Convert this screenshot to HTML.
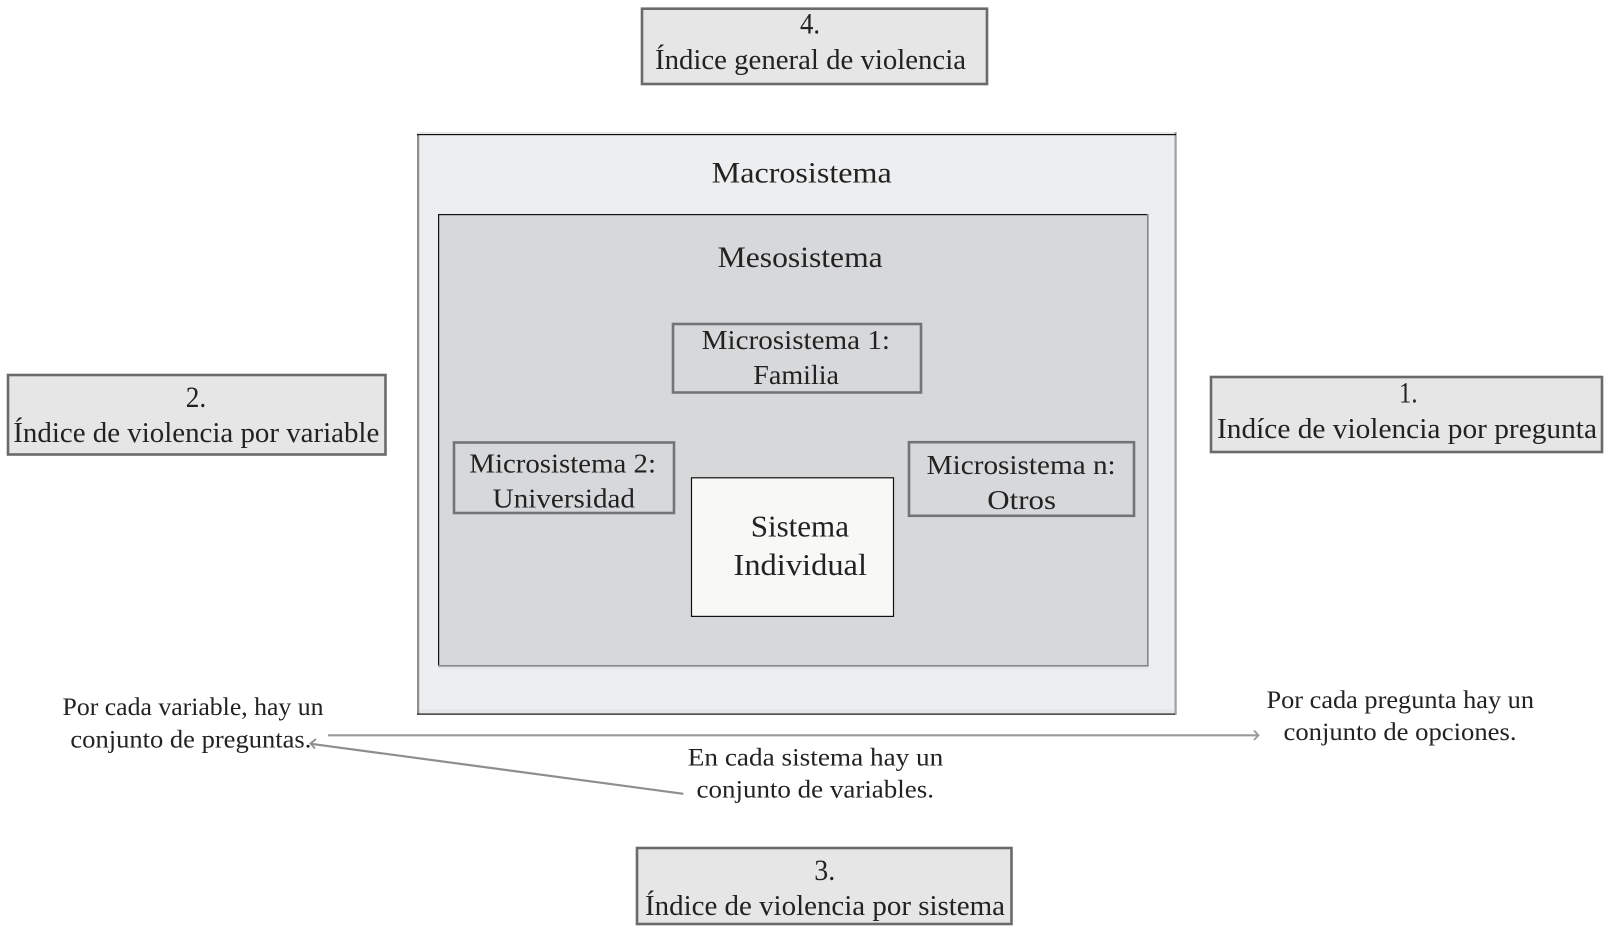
<!DOCTYPE html>
<html lang="es">
<head>
<meta charset="utf-8">
<title>Sistemas e índices de violencia</title>
<style>
html,body{margin:0;padding:0;background:#fff;width:1609px;height:931px;overflow:hidden}
svg{display:block}
text{font-family:"Liberation Serif",serif;fill:#222;text-anchor:start}
.b{font-size:28px}
.l{font-size:25px}
.m{font-size:27px}
</style>
</head>
<body>
<svg width="1609" height="931" viewBox="0 0 1609 931" xmlns="http://www.w3.org/2000/svg">
<rect width="1609" height="931" fill="#fff"/>

<!-- Macrosistema -->
<rect x="417" y="132" width="759" height="583" fill="#edeef0"/>
<rect x="417" y="132" width="759" height="2" fill="#e6e7e8"/>
<rect x="419" y="709" width="755" height="4" fill="#e6e7e8"/>
<rect x="417" y="134" width="2.2" height="580" fill="#8e8e8e"/>
<rect x="1174.5" y="132" width="2.2" height="583" fill="#a0a0a0"/>
<rect x="417" y="134" width="759" height="1.2" fill="#111"/>
<rect x="417" y="713.5" width="758" height="1.2" fill="#111"/>
<text x="711.7" y="182.7" font-size="30" textLength="180" lengthAdjust="spacingAndGlyphs">Macrosistema</text>

<!-- Mesosistema -->
<rect x="438" y="214" width="711" height="455" fill="#e5e6e8"/>
<rect x="438" y="214" width="710" height="451.5" fill="#d7d8da"/>
<rect x="1147" y="214" width="1.6" height="452" fill="#85878a"/>
<rect x="438" y="665" width="710.6" height="1.6" fill="#85878a"/>
<rect x="438" y="214" width="709" height="1.2" fill="#111"/>
<rect x="438" y="214" width="1.2" height="451" fill="#111"/>
<text x="717.7" y="267" font-size="30" textLength="165" lengthAdjust="spacingAndGlyphs">Mesosistema</text>

<!-- Microsistema 1 -->
<rect x="673" y="324" width="248" height="68.5" fill="#d7d8da" stroke="#737476" stroke-width="2.6"/>
<text class="m" x="701.7" y="349" textLength="188.3" lengthAdjust="spacingAndGlyphs">Microsistema 1:</text>
<text class="m" x="753.3" y="384" textLength="85.7" lengthAdjust="spacingAndGlyphs">Familia</text>

<!-- Microsistema 2 -->
<rect x="454" y="442.5" width="220" height="70.5" fill="#d7d8da" stroke="#737476" stroke-width="2.6"/>
<text class="m" x="469.3" y="472.3" textLength="186.7" lengthAdjust="spacingAndGlyphs">Microsistema 2:</text>
<text class="m" x="492.7" y="507.3" textLength="142.3" lengthAdjust="spacingAndGlyphs">Universidad</text>

<!-- Microsistema n -->
<rect x="909" y="442.2" width="225" height="73.6" fill="#d7d8da" stroke="#737476" stroke-width="2.6"/>
<text class="m" x="926.7" y="474" textLength="189" lengthAdjust="spacingAndGlyphs">Microsistema n:</text>
<text class="m" x="987.3" y="508.8" textLength="68.7" lengthAdjust="spacingAndGlyphs">Otros</text>

<!-- Sistema Individual -->
<rect x="691.5" y="477.8" width="202" height="138.6" fill="#f8f8f7" stroke="#111" stroke-width="1.2"/>
<text x="750.7" y="536.3" font-size="31" textLength="98.3" lengthAdjust="spacingAndGlyphs">Sistema</text>
<text x="733.5" y="575" font-size="31" textLength="133.5" lengthAdjust="spacingAndGlyphs">Individual</text>

<!-- Box 4 -->
<rect x="642" y="8.7" width="345" height="75.3" fill="#e6e6e6" stroke="#6a6a6a" stroke-width="2.6"/>
<text x="800" y="33.5" font-size="30" textLength="20" lengthAdjust="spacingAndGlyphs">4.</text>
<text class="b" x="655" y="69" textLength="311" lengthAdjust="spacingAndGlyphs">Índice general de violencia</text>

<!-- Box 2 -->
<rect x="8" y="375" width="377.5" height="79.5" fill="#e6e6e6" stroke="#6a6a6a" stroke-width="2.6"/>
<text x="185.7" y="407" font-size="30" textLength="20.5" lengthAdjust="spacingAndGlyphs">2.</text>
<text class="b" x="13.3" y="442" textLength="366" lengthAdjust="spacingAndGlyphs">Índice de violencia por variable</text>

<!-- Box 1 -->
<rect x="1211" y="377" width="391" height="75" fill="#e6e6e6" stroke="#6a6a6a" stroke-width="2.6"/>
<text x="1399" y="402.5" font-size="30" textLength="18.5" lengthAdjust="spacingAndGlyphs">1.</text>
<text class="b" x="1217" y="438" textLength="380" lengthAdjust="spacingAndGlyphs">Indíce de violencia por pregunta</text>

<!-- Box 3 -->
<rect x="637" y="848" width="374.5" height="76" fill="#e6e6e6" stroke="#6a6a6a" stroke-width="2.6"/>
<text x="814.3" y="880" font-size="30" textLength="21" lengthAdjust="spacingAndGlyphs">3.</text>
<text class="b" x="645" y="914.8" textLength="360" lengthAdjust="spacingAndGlyphs">Índice de violencia por sistema</text>

<!-- Connectors -->
<line x1="328" y1="735.3" x2="1258" y2="735.3" stroke="#9a9a9a" stroke-width="2.2"/>
<polyline points="1254,730.5 1258.5,735.3 1254,740" fill="none" stroke="#9a9a9a" stroke-width="1.8"/>
<line x1="683.3" y1="793.8" x2="311" y2="743.8" stroke="#8e8e8e" stroke-width="2.2"/>
<polyline points="316,739 310.5,743.5 315,748.5" fill="none" stroke="#8e8e8e" stroke-width="1.8"/>

<!-- Annotations -->
<text class="l" x="62.5" y="715" textLength="261" lengthAdjust="spacingAndGlyphs">Por cada variable, hay un</text>
<text class="l" x="70.4" y="747.7" textLength="241" lengthAdjust="spacingAndGlyphs">conjunto de preguntas.</text>
<text class="l" x="1266.5" y="708" textLength="267.5" lengthAdjust="spacingAndGlyphs">Por cada pregunta hay un</text>
<text class="l" x="1283.5" y="740" textLength="233" lengthAdjust="spacingAndGlyphs">conjunto de opciones.</text>
<text class="l" x="687.8" y="765.7" textLength="255.5" lengthAdjust="spacingAndGlyphs">En cada sistema hay un</text>
<text class="l" x="696.5" y="797.7" textLength="237.5" lengthAdjust="spacingAndGlyphs">conjunto de variables.</text>
</svg>
</body>
</html>
